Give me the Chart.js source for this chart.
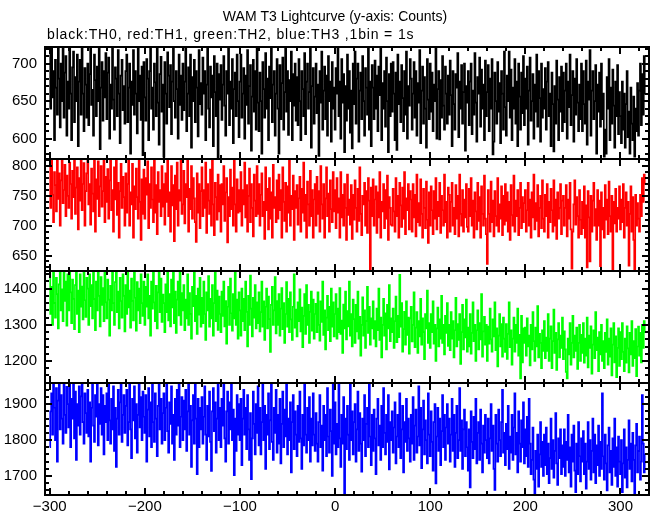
<!DOCTYPE html>
<html><head><meta charset="utf-8">
<script src="https://cdn.jsdelivr.net/npm/chart.js@4/dist/chart.umd.min.js"></script>
<style>html,body{margin:0;padding:0;background:#fff}#wrap{width:652px;height:515px}</style>
</head><body><div id="wrap"><canvas id="c" width="652" height="515"></canvas></div>
<script>
const titleText = "WAM T3 Lightcurve (y-axis: Counts)";
const subtitleText = "black:TH0, red:TH1, green:TH2, blue:TH3 ,1bin = 1s";
const tStart = -300;            // time of first 1 s bin
const xRange = [-305, 330];
const xTickValues = [-300, -200, -100, 0, 100, 200, 300];
const xTickText = ["\u2212300", "\u2212200", "\u2212100", "0", "100", "200", "300"];
const th0Ticks = [600, 650, 700];
const th1Ticks = [650, 700, 750, 800];
const th2Ticks = [1200, 1300, 1400];
const th3Ticks = [1700, 1800, 1900];
const th0Range = [573, 722];
const th1Range = [624, 812];
const th2Range = [1139, 1449];
const th3Range = [1647, 1959];

const th0 = [
712,640,722,655,690,598,705,668,632,722,680,615,700,650,722,628,688,710,604,676,
640,722,660,598,695,716,622,682,650,712,590,676,705,632,722,660,610,694,672,628,
700,618,686,722,645,665,604,712,678,630,696,650,720,586,668,702,624,690,655,714,
626,688,708,600,672,640,722,652,612,695,680,630,718,660,594,684,705,638,670,620,
690,712,622,668,700,580,676,645,718,632,690,660,607,722,650,684,625,696,578,702,
655,624,706,680,598,690,720,640,668,612,700,675,630,722,648,592,686,709,636,672,
576,702,660,620,715,684,642,698,606,676,722,650,628,690,666,600,712,645,684,625,
700,638,676,722,610,660,695,630,712,588,682,650,705,622,690,668,603,718,646,674,
632,708,660,690,598,672,720,640,615,696,655,684,590,710,662,630,700,575,686,652,
698,625,672,710,644,604,690,660,722,618,676,640,706,594,666,688,630,712,650,602,
676,712,628,660,694,600,684,645,718,620,670,698,584,656,705,636,690,612,722,648,
610,688,650,580,702,666,628,714,640,680,598,696,654,722,622,672,690,604,660,706,
640,580,698,626,674,708,612,662,722,636,690,605,678,650,716,598,686,644,700,624,
682,618,706,650,598,690,666,630,714,606,676,700,640,662,722,588,670,694,620,656,
700,634,672,577,690,648,716,612,664,696,626,684,604,710,650,676,596,702,640,668,
612,694,660,720,630,676,600,706,648,686,582,670,624,712,640,690,608,664,587,700,
646,716,620,680,700,596,664,688,626,710,650,604,694,668,632,722,612,676,590,698,
668,626,704,640,684,610,696,658,720,598,674,640,690,616,708,650,582,686,630,700,
636,702,660,598,688,585,712,646,676,622,698,654,610,690,632,716,600,670,644,706,
680,612,660,702,628,690,604,674,648,718,594,664,696,620,682,640,588,706,652,626,
700,636,688,610,672,650,720,600,666,690,599,678,628,710,644,612,696,660,620,684,
632,704,658,590,690,646,612,686,668,714,602,676,640,698,620,662,700,584,670,648,
690,618,676,700,606,664,632,714,648,596,682,660,708,616,692,640,672,598,704,630,
662,698,610,680,640,706,579,596,688,650,620,702,636,674,594,690,660,612,716,642,
604,684,650,716,628,692,598,668,640,706,620,676,590,700,656,612,688,634,710,618,
680,640,696,592,664,708,624,650,686,600,672,636,712,616,690,654,596,700,628,666,
640,694,612,676,702,630,660,590,688,646,583,670,620,704,652,598,682,636,696,610,
688,622,664,700,600,676,642,712,618,658,690,596,680,632,706,648,610,672,626,700,
610,690,646,620,704,592,676,652,718,604,664,690,626,650,698,580,672,636,688,616,
700,626,660,576,612,580,682,640,706,598,668,620,692,644,588,676,630,698,606,662,
630,594,676,612,660,588,646,690,602,636,580,668,620,598,656,576,640,610,674,604,
664,700,618,686,632,710,660];

const th1 = [
800,730,812,752,706,790,768,724,812,745,788,700,776,812,738,760,802,716,784,750,
730,806,770,712,792,748,812,720,764,798,694,780,742,812,726,770,805,700,758,788,
812,736,770,702,796,754,724,812,690,778,745,808,716,766,800,732,758,812,706,782,
740,795,712,776,812,726,760,690,798,744,812,718,772,680,758,804,730,782,748,700,
788,722,770,812,700,756,736,804,680,766,728,796,748,712,812,740,676,778,720,794,
712,780,752,808,696,770,730,798,744,706,812,722,768,686,790,740,760,716,800,732,
770,702,788,740,812,716,756,690,800,734,768,674,784,728,806,700,760,742,812,720,
736,792,704,770,748,812,690,762,728,800,712,780,746,706,673,788,722,770,696,758,
798,716,760,730,806,688,770,742,720,794,700,812,736,684,772,748,710,786,724,768,
690,770,736,800,708,756,780,672,748,716,794,728,764,700,812,736,690,778,722,760,
724,790,700,760,736,806,714,768,690,750,796,706,770,730,682,786,742,716,800,720,
770,700,752,788,716,740,678,798,726,762,694,780,712,756,680,802,730,748,706,776,
712,786,726,760,680,798,740,708,772,690,766,722,812,700,750,728,784,676,758,730,
768,702,746,782,690,762,722,806,708,752,680,774,736,700,792,716,760,680,744,770,
700,782,720,758,690,800,736,712,770,680,746,798,716,754,690,776,728,706,790,724,
760,696,780,722,746,680,790,714,752,700,770,730,676,786,718,744,702,768,678,752,
710,776,730,690,762,708,798,720,684,750,736,772,700,758,688,780,742,626,764,716,
778,700,744,766,688,756,714,790,680,740,724,770,696,760,712,784,676,748,730,702,
700,762,724,690,780,716,750,680,772,734,698,764,712,790,686,746,726,770,694,758,
744,690,770,714,752,682,786,706,738,700,778,720,680,762,730,696,774,710,671,756,
700,766,726,686,758,712,780,694,740,716,772,688,750,726,700,786,706,740,680,764,
752,690,740,772,700,730,686,768,712,750,682,786,720,700,760,690,744,714,770,698,
690,762,716,780,700,742,680,756,724,694,772,708,748,680,766,720,700,784,712,686,
636,760,720,690,774,706,742,682,758,716,700,780,690,736,712,766,684,750,702,770,
708,756,690,740,676,768,718,700,784,690,742,716,760,684,730,772,696,748,706,738,
760,690,726,772,700,744,680,756,714,786,694,738,708,768,682,730,750,696,776,712,
690,752,716,770,680,740,706,762,726,690,776,700,744,678,756,712,730,770,686,742,
750,700,730,768,682,744,712,772,694,628,690,736,776,702,748,716,680,760,710,686,
740,696,766,680,734,630,758,714,640,750,690,742,772,700,728,676,760,700,742,632,
756,694,730,680,768,710,744,686,774,716,690,750,627,740,704,762,690,730,712,766,
694,744,706,770,680,730,756,700,740,633,720,766,690,748,676,626,752,700,738,712,
690,752,716,780,740,786,770];

const th2 = [
1449,1330,1405,1300,1449,1360,1320,1430,1385,1290,1412,1449,1340,1398,1310,1449,1366,1420,1298,1440,
1340,1449,1390,1305,1425,1372,1288,1410,1449,1330,1395,1280,1440,1350,1406,1315,1449,1368,1322,1430,
1400,1300,1440,1352,1410,1318,1449,1372,1285,1420,1340,1449,1380,1296,1432,1355,1402,1310,1445,1362,
1318,1425,1370,1270,1408,1340,1449,1360,1300,1418,1449,1335,1392,1290,1430,1366,1320,1440,1380,1282,
1410,1330,1449,1348,1395,1292,1428,1366,1312,1449,1375,1284,1418,1340,1400,1305,1440,1360,1325,1420,
1300,1405,1350,1440,1318,1380,1270,1420,1345,1449,1362,1310,1408,1290,1390,1449,1335,1428,1308,1384,
1360,1280,1412,1335,1449,1312,1385,1296,1425,1348,1449,1305,1392,1278,1370,1420,1326,1445,1300,1388,
1340,1410,1285,1370,1318,1440,1300,1388,1330,1262,1405,1352,1449,1310,1380,1275,1400,1328,1430,1295,
1375,1305,1420,1330,1258,1390,1340,1435,1295,1372,1318,1410,1270,1360,1449,1310,1395,1286,1378,1330,
1280,1392,1325,1420,1296,1366,1248,1350,1405,1300,1428,1332,1284,1385,1318,1445,1300,1370,1262,1390,
1340,1270,1400,1310,1372,1285,1420,1336,1240,1380,1300,1436,1345,1268,1375,1320,1410,1290,1362,1305,
1390,1282,1335,1420,1295,1365,1258,1350,1400,1290,1378,1316,1225,1355,1405,1300,1340,1432,1276,1366,
1300,1385,1270,1345,1402,1288,1360,1250,1330,1418,1295,1372,1280,1390,1315,1258,1350,1440,1292,1342,
1268,1362,1310,1398,1282,1348,1238,1325,1385,1275,1410,1300,1355,1250,1336,1392,1284,1370,1262,1330,
1358,1280,1390,1300,1256,1365,1308,1420,1272,1340,1232,1320,1380,1285,1350,1255,1400,1295,1362,1268,
1330,1385,1262,1345,1280,1402,1275,1312,1222,1356,1290,1392,1260,1338,1296,1420,1270,1330,1240,1370,
1316,1250,1355,1282,1392,1262,1322,1215,1300,1376,1270,1340,1236,1310,1405,1278,1350,1245,1318,1290,
1365,1262,1310,1240,1345,1285,1400,1258,1320,1210,1300,1372,1270,1332,1232,1355,1290,1410,1255,1318,
1280,1345,1236,1310,1378,1252,1325,1266,1438,1295,1360,1226,1288,1336,1245,1365,1272,1320,1220,1318,
1350,1254,1300,1390,1238,1292,1335,1222,1310,1268,1372,1245,1318,1280,1205,1330,1290,1395,1250,1305,
1236,1330,1280,1365,1248,1300,1200,1290,1348,1240,1315,1262,1380,1250,1300,1218,1325,1278,1360,1242,
1300,1230,1335,1262,1310,1210,1285,1375,1240,1302,1258,1330,1192,1280,1355,1232,1315,1265,1370,1226,
1292,1240,1330,1220,1278,1362,1255,1300,1200,1285,1340,1232,1305,1260,1385,1212,1282,1322,1245,1300,
1200,1295,1248,1345,1260,1226,1315,1268,1362,1230,1290,1185,1270,1330,1240,1302,1212,1320,1262,1225,
1302,1206,1275,1362,1238,1285,1190,1262,1320,1226,1300,1250,1345,1215,1272,1152,1325,1196,1290,1250,
1292,1215,1318,1240,1270,1188,1300,1232,1335,1255,1200,1292,1240,1352,1210,1275,1250,1180,1285,1228,
1310,1208,1265,1228,1330,1200,1262,1296,1180,1255,1342,1222,1278,1175,1260,1305,1210,1270,1236,1320,
1205,1282,1232,1170,1152,1262,1218,1305,1190,1250,1325,1210,1270,1228,1292,1178,1250,1300,1200,1272,
1222,1305,1195,1262,1215,1320,1182,1270,1236,1296,1165,1245,1285,1208,1335,1230,1265,1172,1280,1218,
1300,1200,1255,1180,1278,1225,1315,1190,1262,1212,1290,1160,1245,1305,1196,1268,1155,1236,1290,1186,
1280,1205,1305,1225,1172,1262,1195,1296,1235,1168,1278,1218,1310,1186,1255,1208,1288,1158,1240,1295,
1215,1278,1196,1300,1236,1310,1280];

const th3 = [
1780,1880,1930,1815,1959,1890,1800,1945,1740,1910,1959,1830,1925,1860,1790,1959,1870,1820,1948,1900,
1835,1955,1780,1915,1860,1959,1805,1935,1745,1900,1840,1950,1815,1922,1959,1850,1790,1930,1875,1820,
1940,1810,1905,1740,1890,1959,1840,1795,1925,1865,1959,1785,1900,1845,1945,1815,1925,1760,1895,1850,
1930,1800,1959,1855,1790,1915,1830,1950,1770,1890,1725,1860,1940,1815,1905,1959,1795,1870,1925,1820,
1895,1940,1785,1850,1959,1830,1750,1915,1855,1950,1805,1900,1765,1870,1959,1835,1920,1800,1935,1865,
1820,1925,1740,1885,1945,1810,1905,1780,1959,1850,1795,1930,1860,1755,1895,1959,1830,1915,1790,1875,
1930,1800,1890,1959,1825,1765,1905,1845,1950,1790,1870,1745,1915,1815,1940,1840,1959,1780,1865,1920,
1800,1910,1830,1940,1770,1880,1959,1815,1895,1725,1855,1925,1790,1959,1860,1705,1915,1780,1890,1830,
1920,1790,1865,1950,1815,1745,1895,1810,1935,1795,1714,1880,1945,1825,1905,1765,1860,1959,1800,1890,
1780,1915,1840,1955,1805,1740,1880,1935,1790,1905,1830,1959,1800,1885,1702,1860,1770,1925,1815,1900,
1800,1915,1730,1860,1940,1815,1890,1775,1925,1830,1745,1875,1691,1805,1935,1845,1760,1900,1820,1950,
1785,1890,1760,1850,1959,1800,1895,1720,1870,1815,1930,1775,1855,1959,1795,1745,1890,1820,1940,1765,
1870,1790,1915,1735,1845,1935,1780,1885,1810,1959,1760,1860,1800,1905,1710,1850,1925,1775,1880,1815,
1755,1895,1795,1935,1805,1720,1870,1785,1959,1815,1765,1890,1800,1920,1740,1860,1785,1930,1815,1770,
1875,1790,1740,1850,1925,1780,1840,1715,1895,1800,1870,1755,1945,1810,1765,1885,1825,1700,1959,1790,
1905,1760,1845,1780,1955,1805,1725,1870,1790,1920,1652,1860,1775,1895,1815,1745,1959,1800,1880,1760,
1850,1900,1740,1830,1935,1770,1875,1790,1712,1860,1800,1925,1755,1845,1890,1780,1955,1810,1730,1870,
1770,1885,1805,1705,1860,1915,1785,1840,1745,1895,1780,1945,1820,1760,1870,1795,1925,1718,1850,1800,
1880,1765,1835,1905,1735,1810,1870,1780,1930,1750,1830,1895,1710,1850,1795,1915,1770,1860,1805,1740,
1870,1790,1920,1745,1840,1885,1765,1810,1950,1785,1890,1722,1830,1910,1760,1855,1800,1735,1930,1815,
1755,1880,1795,1715,1850,1900,1679,1810,1890,1770,1860,1730,1825,1925,1780,1870,1745,1835,1900,1790,
1860,1740,1815,1915,1770,1870,1725,1820,1895,1750,1800,1945,1770,1855,1720,1830,1885,1755,1850,1780,
1715,1830,1668,1880,1795,1750,1865,1775,1915,1735,1820,1850,1745,1885,1790,1710,1840,1765,1870,1800,
1750,1860,1735,1805,1900,1770,1840,1720,1661,1870,1790,1740,1885,1800,1755,1850,1940,1765,1820,1730,
1845,1775,1895,1720,1810,1765,1870,1745,1835,1930,1760,1820,1710,1880,1790,1740,1855,1780,1905,1735,
1830,1755,1865,1725,1915,1790,1705,1745,1835,1690,1652,1770,1720,1815,1670,1760,1850,1725,1795,1700,
1815,1730,1835,1705,1790,1680,1750,1860,1720,1800,1695,1770,1875,1735,1675,1805,1750,1830,1705,1785,
1725,1830,1700,1795,1745,1870,1710,1780,1670,1815,1740,1840,1715,1655,1790,1705,1850,1755,1685,1805,
1740,1825,1705,1790,1665,1740,1850,1720,1800,1690,1770,1860,1710,1815,1680,1785,1730,1840,1700,1795,
1720,1930,1755,1690,1815,1735,1660,1785,1835,1710,1770,1675,1805,1725,1860,1700,1780,1670,1810,1740,
1705,1800,1655,1735,1830,1695,1780,1668,1745,1855,1720,1790,1685,1820,1745,1652,1785,1845,1710,1770,
1810,1690,1740,1925,1790,1710,1760];

const panels = [
  {id: 'yTH0', label: 'TH0', values: th0, color: '#000000', range: th0Range, ticks: th0Ticks, minor: 10, major: 50, order: 4},
  {id: 'yTH1', label: 'TH1', values: th1, color: '#ff0000', range: th1Range, ticks: th1Ticks, minor: 10, major: 50, order: 3},
  {id: 'yTH2', label: 'TH2', values: th2, color: '#00ff00', range: th2Range, ticks: th2Ticks, minor: 20, major: 100, order: 2},
  {id: 'yTH3', label: 'TH3', values: th3, color: '#0000ff', range: th3Range, ticks: th3Ticks, minor: 20, major: 100, order: 1}
];

const FONT = {family: "'Liberation Sans', Arial, Helvetica, sans-serif", size: 15};

const scales = {
  x: {
    type: 'linear', position: 'bottom', min: xRange[0], max: xRange[1],
    grid: {display: false, drawTicks: false}, border: {display: false},
    afterBuildTicks: s => { s.ticks = xTickValues.map(v => ({value: v})); },
    afterFit: s => { s.height = 20; },
    ticks: {autoSkip: false, maxRotation: 0, padding: 3, color: '#000', font: FONT,
      callback: (v) => { const i = xTickValues.indexOf(v); return i >= 0 ? xTickText[i] : ''; }}
  }
};
panels.forEach(p => {
  scales[p.id] = {
    type: 'linear', position: 'left', stack: 'lc', stackWeight: 1, weight: p.order,
    min: p.range[0], max: p.range[1],
    grid: {display: false, drawTicks: false}, border: {display: false},
    afterBuildTicks: s => { s.ticks = p.ticks.map(v => ({value: v})); },
    afterFit: s => { s.width = 45; },
    ticks: {autoSkip: false, padding: 8, color: '#000', font: FONT, callback: v => String(v)}
  };
});

const frames = {
  id: 'frames',
  afterDatasetsDraw(chart) {
    const ctx = chart.ctx, ca = chart.chartArea, xs = chart.scales.x;
    ctx.save();
    ctx.strokeStyle = '#000';
    ctx.lineWidth = 2;
    panels.forEach(p => {
      const ys = chart.scales[p.id];
      const top = ys.top, bot = ys.bottom;
      ctx.strokeRect(ca.left, top, ca.right - ca.left, bot - top);
      ctx.beginPath();
      for (let v = Math.ceil(ys.min / p.minor) * p.minor; v <= ys.max; v += p.minor) {
        const y = Math.round(ys.getPixelForValue(v));
        const len = (v % p.major === 0) ? 7 : 4;
        ctx.moveTo(ca.left, y); ctx.lineTo(ca.left + len, y);
        ctx.moveTo(ca.right, y); ctx.lineTo(ca.right - len, y);
      }
      for (let v = Math.ceil(xs.min / 20) * 20; v <= xs.max; v += 20) {
        const x = Math.round(xs.getPixelForValue(v));
        const len = (v % 100 === 0) ? 7 : 4;
        ctx.moveTo(x, top); ctx.lineTo(x, top + len);
        ctx.moveTo(x, bot); ctx.lineTo(x, bot - len);
      }
      ctx.stroke();
    });
    ctx.restore();
  },
  afterDraw(chart) {
    const ctx = chart.ctx;
    ctx.save();
    ctx.fillStyle = '#000';
    ctx.font = "14px 'Liberation Sans', Arial, sans-serif";
    ctx.textBaseline = 'middle';
    ctx.textAlign = 'center';
    ctx.fillText(titleText, 335, 17);
    ctx.textAlign = 'left';
    ctx.letterSpacing = '0.85px';
    ctx.fillText(subtitleText, 47, 35);
    ctx.restore();
  }
};

new Chart(document.getElementById('c'), {
  type: 'line',
  data: {
    datasets: panels.map(p => ({
      label: p.label,
      yAxisID: p.id,
      xAxisID: 'x',
      data: p.values.map((v, i) => ({x: tStart + i, y: v})),
      borderColor: p.color,
      borderWidth: 1.7,
      pointRadius: 0,
      stepped: 'middle',
      fill: false,
      tension: 0
    }))
  },
  options: {
    responsive: false,
    animation: false,
    devicePixelRatio: 1,
    layout: {padding: {top: 47, right: 3, left: 0, bottom: 0}},
    plugins: {legend: {display: false}, tooltip: {enabled: false}, title: {display: false}},
    scales: scales
  },
  plugins: [frames]
});
</script>
</body></html>
